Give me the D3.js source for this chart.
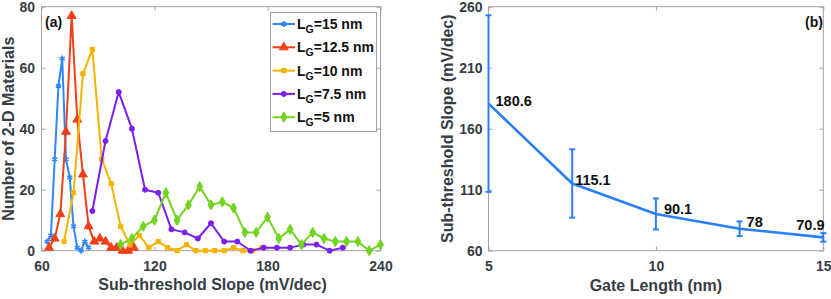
<!DOCTYPE html>
<html><head><meta charset="utf-8">
<script src="https://cdn.jsdelivr.net/npm/d3@7"></script>
<style>
body{margin:0;background:#fff}
svg{display:block}
text{font-family:"Liberation Sans",Arial,Helvetica,sans-serif;font-weight:bold}
</style>
</head><body>
<svg id="c" width="831" height="299"></svg>
<script>
// ---------- Data: panel (a) ----------
const seriesNames = ["15 nm", "12.5 nm", "10 nm", "7.5 nm", "5 nm"];
const lg15X  = [63,65,67,69,71,73,75,77,79,81,83,85];
const lg15Y  = [3,5,30,54,63,30,24,8,1,0,3,1];
const lg125X = [64,67,70,73,76,79,82,85,88,91,94,97,100,103,106,109];
const lg125Y = [1,4,12,39,77,43,25,8,3,4,3,1,1,0,0,1];
const lg10X  = [72,77,82,87,92,97,102,107,112,117,122,127,132,137,142,147,152,157,162,167,172,177];
const lg10Y  = [3,19,58,66,30,22,8,2,5,1,3,1,0,2,0,0,0,0,1,0,0,1];
const lg75X  = [87,94,101,108,115,122,129,136,143,150,157,164,171,178,185,192,199,206,213,220];
const lg75Y  = [13,36,52,40,20,19,7,6,4,9,3,3,0,1,1,1,2,2,0,1];
const lg5X   = [102,108,114,120,126,132,138,144,150,156,162,168,174,180,186,192,198,204,210,216,222,228,234,240];
const lg5Y   = [2,4,8,10,19,10,15,21,15,16,14,6,6,11,4,7,2,6,4,3,3,3,0,2];
const xTicksA = [60,120,180,240];
const yTicksA = [0,20,40,60,80];

// ---------- Data: panel (b) ----------
const gateLength = [5,7.5,10,12.5,15];
const ssMean     = [180.6,115.1,90.1,78,70.9];
const ssErr      = [72.4,28,12.7,6,3.5];
const ssLabels   = ["180.6","115.1","90.1","78","70.9"];
const xTicksB = [5,10,15];
const yTicksB = [60,110,160,210,260];

// ---------- Style ----------
const frameCol = "#a3a3a3", tickTextCol = "#363d45";
const colors = ["#2f87ff","#f0401a","#f5b301","#7a1ff0","#72d420"];
const symbols = [d3.symbolAsterisk, d3.symbolTriangle, d3.symbolSquare, d3.symbolCircle, d3.symbolDiamond];
const symSizes = [24, 34, 18, 20, 30];
const labelOffsets = [[7,2],[3,2],[8,0],[7,-2],[-27,-7]];

const svg = d3.select("#c");

function frameAxes(g, x, y, xt, yt, pad) {
  const W = x.range()[1]-x.range()[0];
  const H = y.range()[0]-y.range()[1];
  const x0 = x.range()[0], y0 = y.range()[1];
  const bottom = g.append("g").attr("transform",`translate(0,${y.range()[0]})`)
    .call(d3.axisBottom(x).tickValues(xt).tickSize(-4).tickSizeOuter(0).tickPadding(10));
  const top = g.append("g").attr("transform",`translate(0,${y0})`)
    .call(d3.axisTop(x).tickValues(xt).tickSize(-4).tickSizeOuter(0).tickFormat(""));
  const left = g.append("g").attr("transform",`translate(${x0},0)`)
    .call(d3.axisLeft(y).tickValues(yt).tickSize(-4).tickSizeOuter(0).tickPadding(pad));
  const right = g.append("g").attr("transform",`translate(${x.range()[1]},0)`)
    .call(d3.axisRight(y).tickValues(yt).tickSize(-4).tickSizeOuter(0).tickFormat(""));
  [bottom,top,left,right].forEach(a=>{
    a.select(".domain").remove();
    a.selectAll(".tick line").attr("stroke",frameCol);
    a.selectAll("text").attr("fill",tickTextCol).style("font-size","14px")
      .style("font-family",'"Liberation Sans",Arial,sans-serif').style("font-weight","bold");
  });
  g.append("rect").attr("x",x0).attr("y",y0).attr("width",W).attr("height",H)
    .attr("fill","none").attr("stroke",frameCol).attr("stroke-width",1);
}

// ---------- Panel (a) ----------
const xA = d3.scaleLinear().domain([60,240]).range([41.5,380.5]);
const yA = d3.scaleLinear().domain([0,80]).range([250.7,6.7]);
const gA = svg.append("g");
frameAxes(gA, xA, yA, xTicksA, yTicksA, 6.5);

const seriesA = [[lg15X,lg15Y],[lg125X,lg125Y],[lg10X,lg10Y],[lg75X,lg75Y],[lg5X,lg5Y]];
const lineA = d3.line().x(d=>xA(d[0])).y(d=>yA(d[1]));
seriesA.forEach((s,i)=>{
  const pts = s[0].map((v,j)=>[v,s[1][j]]);
  gA.append("path").datum(pts).attr("d",lineA).attr("fill","none")
    .attr("stroke",colors[i]).attr("stroke-width",2).attr("stroke-linejoin","round");
  const sym = d3.symbol().type(symbols[i]).size(symSizes[i]);
  gA.selectAll(null).data(pts).enter().append("path")
    .attr("transform",d=>`translate(${xA(d[0])},${yA(d[1])})`)
    .attr("d",sym)
    .attr("fill", i===0 ? "none" : colors[i])
    .attr("stroke",colors[i]).attr("stroke-width", i===0 ? 1.6 : 1);
});

gA.append("text").attr("x",45).attr("y",27).text("(a)").style("font-size","14px").attr("fill","#111");

// legend
const leg = gA.append("g");
leg.append("rect").attr("x",270.5).attr("y",12.5).attr("width",106).attr("height",119)
  .attr("fill","#fff").attr("stroke",frameCol);
seriesNames.forEach((n,i)=>{
  const cy = 24 + i*23.3;
  leg.append("line").attr("x1",272.5).attr("x2",295).attr("y1",cy).attr("y2",cy)
    .attr("stroke",colors[i]).attr("stroke-width",2);
  leg.append("path").attr("transform",`translate(283.8,${cy})`)
    .attr("d",d3.symbol().type(symbols[i]).size(symSizes[i]))
    .attr("fill", i===0 ? "none" : colors[i]).attr("stroke",colors[i]).attr("stroke-width", i===0?1.6:1);
  const t = leg.append("text").attr("x",297).attr("y",cy+5).attr("fill","#111").style("font-size","14px");
  t.append("tspan").text("L");
  t.append("tspan").text("G").style("font-size","10.5px").attr("dy",4);
  t.append("tspan").text("=" + n).attr("dy",-4);
});

gA.append("text").attr("x",(xA.range()[0]+xA.range()[1])/2+1.5).attr("y",290)
  .attr("text-anchor","middle").attr("fill",tickTextCol).style("font-size","16px")
  .text("Sub-threshold Slope (mV/dec)");
gA.append("text").attr("transform",`translate(13.5,${(yA.range()[0]+yA.range()[1])/2}) rotate(-90)`)
  .attr("text-anchor","middle").attr("fill",tickTextCol).style("font-size","16px")
  .text("Number of 2-D Materials");

// ---------- Panel (b) ----------
const xB = d3.scaleLinear().domain([5,15]).range([488.5,823.3]);
const yB = d3.scaleLinear().domain([60,260]).range([250.7,6.7]);
const gB = svg.append("g");
frameAxes(gB, xB, yB, xTicksB, yTicksB, 6);

const ptsB = gateLength.map((g,i)=>[g,ssMean[i],ssErr[i]]);
const blueB = "#2a7ef8";
gB.append("path").datum(ptsB).attr("d",d3.line().x(d=>xB(d[0])).y(d=>yB(d[1])))
  .attr("fill","none").attr("stroke",blueB).attr("stroke-width",2.6).attr("stroke-linejoin","round");
const eb = gB.selectAll(null).data(ptsB).enter().append("g");
eb.append("line").attr("x1",d=>xB(d[0])).attr("x2",d=>xB(d[0]))
  .attr("y1",d=>yB(d[1]-d[2])).attr("y2",d=>yB(d[1]+d[2]))
  .attr("stroke",blueB).attr("stroke-width",2);
[-1,1].forEach(s=>{
  eb.append("line").attr("x1",d=>xB(d[0])-3).attr("x2",d=>xB(d[0])+3)
    .attr("y1",d=>yB(d[1]+s*d[2])).attr("y2",d=>yB(d[1]+s*d[2]))
    .attr("stroke",blueB).attr("stroke-width",2);
});
gB.selectAll(null).data(ptsB).enter().append("text")
  .attr("x",(d,i)=>xB(d[0])+labelOffsets[i][0])
  .attr("y",(d,i)=>yB(d[1])+labelOffsets[i][1])
  .attr("fill","#111").style("font-size","14.5px")
  .text((d,i)=>ssLabels[i]);

gB.append("text").attr("x",805).attr("y",27).text("(b)").style("font-size","14px").attr("fill","#111");
gB.append("text").attr("x",(xB.range()[0]+xB.range()[1])/2).attr("y",290.5)
  .attr("text-anchor","middle").attr("fill",tickTextCol).style("font-size","16px")
  .text("Gate Length (nm)");
gB.append("text").attr("transform",`translate(453,${(yB.range()[0]+yB.range()[1])/2}) rotate(-90)`)
  .attr("text-anchor","middle").attr("fill",tickTextCol).style("font-size","16px")
  .text("Sub-threshold Slope (mV/dec)");
</script>
</body></html>
